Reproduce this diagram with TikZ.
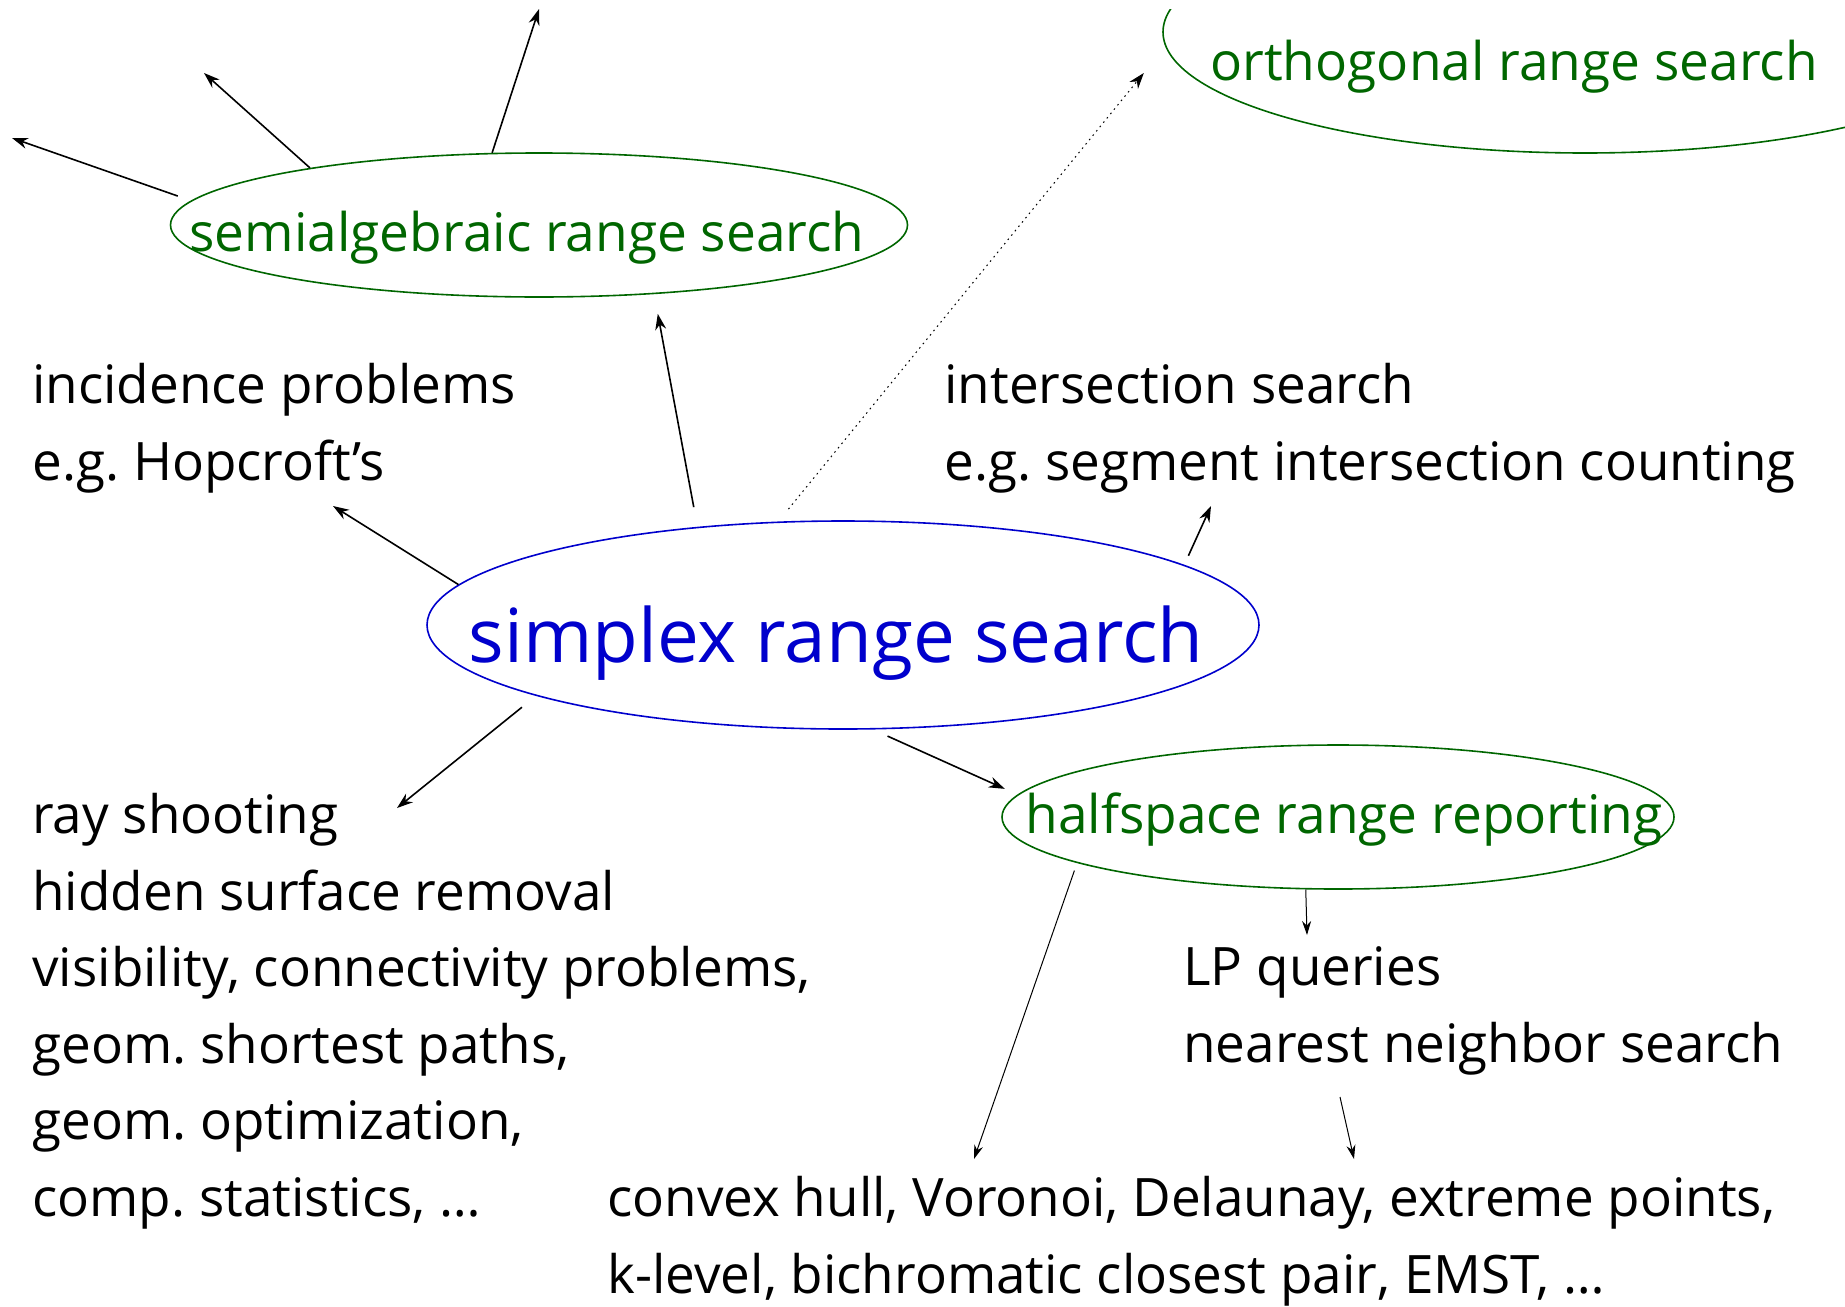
\documentclass[tikz,border=0pt]{standalone}
\usepackage{fontspec}
\setmainfont{Open Sans}
\usepackage{xcolor}
\usetikzlibrary{arrows.meta,shapes.geometric,calc}

\definecolor{rsgreen}{RGB}{0,102,0}
\definecolor{rsblue}{RGB}{0,0,204}
\frenchspacing

\begin{document}
\begin{tikzpicture}[
  x=0.5pt, y=-0.5pt,
  oval/.style={ellipse, draw=rsgreen, line width=0.8pt, inner sep=0pt},
  simplexoval/.style={ellipse, draw=rsblue, line width=0.8pt, inner sep=0pt},
  ovallabel/.style={anchor=base, inner sep=0pt, text=rsgreen, font=\fontsize{26.6}{30}\selectfont},
  simplexlabel/.style={anchor=base, inner sep=0pt, text=rsblue, font=\fontsize{37.3}{44}\selectfont},
  topic/.style={anchor=base west, align=left, inner sep=0pt, font=\fontsize{26.5}{38.25}\selectfont},
  link/.style={-{Stealth[length=8pt,width=5.5pt]}, line width=0.8pt},
  thinlink/.style={-{Stealth[length=7pt,width=4.5pt]}, line width=0.5pt},
  >=Stealth
]
  \useasboundingbox (0,0) rectangle (1845,1306);
  \clip (0,0) rectangle (1845,1306);

  % ovals
  \node[simplexoval, minimum width=416pt, minimum height=104pt] (simplex) at (843,625) {};
  \node[oval, minimum width=368.5pt, minimum height=72pt] (semialg) at (539,225) {};
  \node[oval, minimum width=336pt, minimum height=72pt] (halfspace) at (1338,817) {};
  \begin{scope}
    \clip (0,9) rectangle (1845,1306);
    \node[oval, minimum width=422pt, minimum height=121pt] (ortho) at (1585,32) {};
  \end{scope}

  % oval labels
  \node[simplexlabel] (simplextxt) at (836,662) {simplex range search};
  \node[ovallabel] (semialgtxt) at (527,251) {semialgebraic range search};
  \node[ovallabel] (halfspacetxt) at (1344,833) {halfspace range reporting};
  \node[ovallabel] (orthotxt) at (1514,80) {orthogonal range search};

  % applications (anchored at the baseline of the last line)
  \node[topic] (incidence) at (32,480) {incidence problems\\e.g. Hopcroft’s};
  \node[topic] (intersect) at (944,480) {intersection search\\e.g. segment intersection counting};
  \node[topic] (rayshoot) at (32,1216) {ray shooting\\hidden surface removal\\visibility, connectivity problems,\\geom. shortest paths,\\geom. optimization,\\comp. statistics, …};
  \node[topic] (lpquery) at (1183,1062) {LP queries\\nearest neighbor search};
  \node[topic] (convex) at (607,1293) {convex hull, Voronoi, Delaunay, extreme points,\\k-level, bichromatic closest pair, EMST, …};

  % free arrow ends
  \coordinate (far1) at (12,138);
  \coordinate (far2) at (204,73);
  \coordinate (far3) at (539,9);
  \coordinate (toincid) at (333,506);
  \coordinate (tointer) at (1211,506);
  \coordinate (toray) at (397,808);
  \coordinate (tolp) at (1307,935);
  \coordinate (toconvexa) at (974,1159);
  \coordinate (fromnn) at (1340,1097);
  \coordinate (toconvexb) at (1354,1159);

  % semialgebraic outgoing
  \draw[link, shorten <=7pt] (semialg.176.8) -- (far1);
  \draw[link] (semialg.166.9) -- (far2);
  \draw[link] (semialg.123.7) -- (far3);

  % simplex outgoing
  \draw[link] (simplex.174.3) -- (toincid);
  \draw[link, shorten <=10pt, shorten >=10pt] (simplex.146) -- (semialg.-31);
  \draw[link, dotted, line width=0.5pt, shorten <=8pt, shorten >=17pt] (simplex.122.2) -- (ortho.182.2);
  \draw[link, shorten <=5pt] (simplex.10.3) -- (tointer);
  \draw[link, shorten <=9pt] (simplex.193.2) -- (toray);
  \draw[link, shorten <=8pt, shorten >=7pt] (simplex.286.6) -- (halfspace.176.4);

  % halfspace outgoing
  \draw[thinlink] (halfspace.246.6) -- (tolp);
  \draw[thinlink, shorten <=4pt] (halfspace.190.4) -- (toconvexa);
  \draw[thinlink] (fromnn) -- (toconvexb);
\end{tikzpicture}
\end{document}
